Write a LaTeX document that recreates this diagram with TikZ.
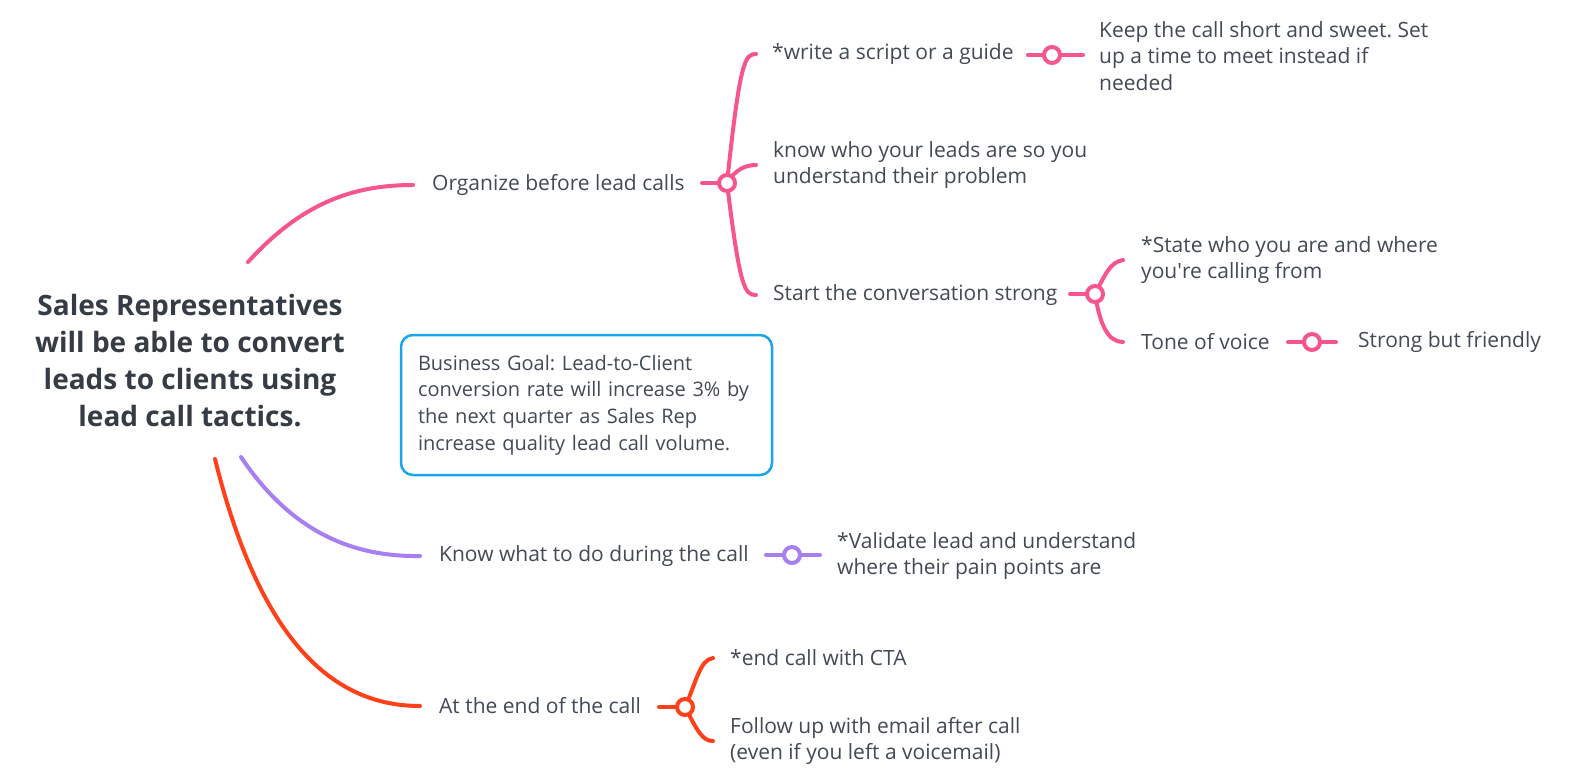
\documentclass[tikz,border=0pt]{standalone}
\usepackage{fontspec}
\setmainfont{Open Sans}
\definecolor{pinkc}{HTML}{F7568B}
\definecolor{redc}{HTML}{FF4019}
\definecolor{purc}{HTML}{A77FF0}
\definecolor{bluec}{HTML}{18A5EE}
\definecolor{txt}{HTML}{434A54}
\definecolor{ctr}{HTML}{363C45}
\pgfdeclarelayer{bg}
\pgfsetlayers{bg,main}
\frenchspacing
\begin{document}
\begin{tikzpicture}[x=1pt,y=-1pt,
  lbl/.style={anchor=west,inner sep=0pt,text=txt,font=\fontsize{21}{26.5}\selectfont,align=left},
  conn/.style={line width=4pt,line cap=round},
  dot/.style={circle,draw,fill=white,line width=4pt,minimum size=16pt,inner sep=0pt},
  goalbox/.style={draw=bluec,line width=2.5pt,rounded corners=12pt,minimum width=371pt,minimum height=140pt,text width=337pt,align=left,text=txt,font=\fontsize{20}{26.7}\selectfont,inner xsep=17pt}
]
\useasboundingbox (0,0) rectangle (1593,782);

% root
\node[font=\fontsize{28}{37}\selectfont\bfseries,text=ctr,align=center] (root) at (190,361)
  {Sales Representatives\\will be able to convert\\leads to clients using\\lead call tactics.};
\coordinate (r1) at (248,262);
\coordinate (p1) at (241,457);
\coordinate (q1) at (215,459);

% pink branch
\node[lbl] (org) at (432,185) {Organize before lead calls};
\node[dot,draw=pinkc] (d1) at (727,183) {};
\node[lbl] (write) at (772,54) {*write a script or a guide};
\node[dot,draw=pinkc] (d2) at (1052,55) {};
\node[lbl] (keep) at (1099,56) {Keep the call short and sweet. Set\\up a time to meet instead if\\needed};
\node[lbl] (know) at (773,165) {know who your leads are so you\\understand their problem};
\node[lbl] (start) at (773,295) {Start the conversation strong};
\node[dot,draw=pinkc] (d3) at (1095,294) {};
\node[lbl] (state) at (1141,260) {*State who you are and where\\you\textquotesingle re calling from};
\node[lbl] (tone) at (1141,342) {Tone of voice};
\node[dot,draw=pinkc] (d4) at (1312,342) {};
\node[lbl] (strong) at (1358,342) {Strong but friendly};

% goal box
\node[goalbox] (goal) at (586.5,405) {Business Goal: Lead-to-Client\\conversion rate will increase 3\% by\\the next quarter as Sales Rep\\increase quality lead call volume.};

% purple branch
\node[lbl] (during) at (439,556) {Know what to do during the call};
\node[dot,draw=purc] (d5) at (792,555) {};
\node[lbl] (valid) at (837,556) {*Validate lead and understand\\where their pain points are};

% red branch
\node[lbl] (endc) at (439,706) {At the end of the call};
\node[dot,draw=redc] (d6) at (685,707) {};
\node[lbl] (cta) at (730,658) {*end call with CTA};
\node[lbl] (follow) at (730,741) {Follow up with email after call\\(even if you left a voicemail)};

\begin{pgfonlayer}{bg}
\fill[white] (0,0) rectangle (1593,782);
\begin{scope}[conn,draw=pinkc]
\draw (r1) .. controls (300,205) and (350,185) .. ([xshift=-19pt]org.west);
\draw ([xshift=-25pt]d1.center) -- (d1.center);
\draw (d1.center) .. controls (740,60) and (745,54) .. ([xshift=-16pt]write.west);
\draw (d1.center) .. controls (735,170) and (745,165) .. ([xshift=-17pt]know.west);
\draw (d1.center) .. controls (740,290) and (745,295) .. ([xshift=-17pt]start.west);
\draw ([xshift=-24pt]d2.center) -- ([xshift=31pt]d2.center);
\draw ([xshift=-25pt]d3.center) -- (d3.center);
\draw (d3.center) .. controls (1105,275) and (1110,262) .. ([xshift=-18pt]state.west);
\draw (d3.center) .. controls (1100,325) and (1108,342) .. ([xshift=-18pt]tone.west);
\draw ([xshift=-24pt]d4.center) -- ([xshift=24pt]d4.center);
\end{scope}
\begin{scope}[conn,draw=purc]
\draw (p1) .. controls (290,530) and (350,557) .. ([xshift=-19pt]during.west);
\draw ([xshift=-26pt]d5.center) -- ([xshift=28pt]d5.center);
\end{scope}
\begin{scope}[conn,draw=redc]
\draw (q1) .. controls (255,620) and (320,706) .. ([xshift=-19pt]endc.west);
\draw ([xshift=-26pt]d6.center) -- (d6.center);
\draw (d6.center) .. controls (697,680) and (700,660) .. ([xshift=-17pt]cta.west);
\draw (d6.center) .. controls (697,730) and (702,741) .. ([xshift=-17pt]follow.west);
\end{scope}
\end{pgfonlayer}
\end{tikzpicture}
\end{document}
